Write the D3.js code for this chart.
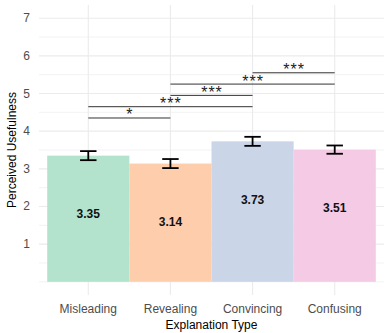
<!DOCTYPE html>
<html>
<head>
<meta charset="utf-8">
<script src="https://cdn.jsdelivr.net/npm/d3@7"></script>
<style>
  body { margin: 0; background: #fff; }
  text { font-family: "Liberation Sans", Arial, sans-serif; }
</style>
</head>
<body>
<div id="chart"></div>
<script>
// values
const categories = ["Misleading", "Revealing", "Convincing", "Confusing"];
const means = [3.35, 3.14, 3.73, 3.51];
const errors = [0.12, 0.12, 0.12, 0.11];
const barColors = ["#b3e2cd", "#fdcdac", "#cbd5e8", "#f4cae4"];
const yTicks = [1, 2, 3, 4, 5, 6, 7];
const yMinor = [0, 0.5, 1.5, 2.5, 3.5, 4.5, 5.5, 6.5];
const sigFrom = ["Misleading", "Misleading", "Revealing", "Revealing", "Convincing"];
const sigTo = ["Revealing", "Convincing", "Convincing", "Confusing", "Confusing"];
const sigY = [4.35, 4.65, 4.95, 5.25, 5.55];
const sigLabel = ["*", "***", "***", "***", "***"];

const width = 388, height = 333;
const panel = { left: 39, right: 384, top: 5, bottom: 295 };

const svg = d3.select("#chart").append("svg")
  .attr("width", width).attr("height", height);

const x = d3.scaleBand()
  .domain(categories)
  .range([panel.left, panel.right])
  .paddingInner(0)
  .paddingOuter(0.1);

const y = d3.scaleLinear()
  .domain([-0.35, 7.35])
  .range([panel.bottom, panel.top]);

const cx = c => x(c) + x.bandwidth() / 2;

// grid
const grid = svg.append("g");
grid.selectAll(".minor").data(yMinor).join("line")
  .attr("x1", panel.left).attr("x2", panel.right)
  .attr("y1", d => y(d)).attr("y2", d => y(d))
  .attr("stroke", "#ebebeb").attr("stroke-width", 0.6);
grid.selectAll(".major").data(yTicks).join("line")
  .attr("x1", panel.left).attr("x2", panel.right)
  .attr("y1", d => y(d)).attr("y2", d => y(d))
  .attr("stroke", "#ebebeb").attr("stroke-width", 1.1);
grid.selectAll(".vmajor").data(categories).join("line")
  .attr("x1", d => cx(d)).attr("x2", d => cx(d))
  .attr("y1", panel.top).attr("y2", panel.bottom)
  .attr("stroke", "#ebebeb").attr("stroke-width", 1.1);

// bars
const rows = categories.map((c, i) => ({ c, m: means[i], e: errors[i], col: barColors[i] }));

svg.selectAll(".bar").data(rows).join("rect")
  .attr("x", d => x(d.c))
  .attr("width", x.bandwidth())
  .attr("y", d => y(d.m))
  .attr("height", d => y(0) - y(d.m))
  .attr("fill", d => d.col);

// error bars
const capW = x.bandwidth() * 0.1;
const eb = svg.append("g").attr("stroke", "#000").attr("stroke-width", 1.8);
rows.forEach(d => {
  const X = cx(d.c);
  eb.append("line").attr("x1", X).attr("x2", X).attr("y1", y(d.m + d.e)).attr("y2", y(d.m - d.e));
  eb.append("line").attr("x1", X - capW).attr("x2", X + capW).attr("y1", y(d.m + d.e)).attr("y2", y(d.m + d.e));
  eb.append("line").attr("x1", X - capW).attr("x2", X + capW).attr("y1", y(d.m - d.e)).attr("y2", y(d.m - d.e));
});

// value labels
svg.selectAll(".val").data(rows).join("text")
  .attr("x", d => cx(d.c))
  .attr("y", d => y(d.m - 1.55))
  .attr("text-anchor", "middle")
  .attr("dominant-baseline", "central")
  .attr("font-size", 12)
  .attr("font-weight", "bold")
  .attr("fill", "#111")
  .text(d => d.m.toFixed(2));

// significance brackets
sigY.forEach((v, i) => {
  const x1 = cx(sigFrom[i]), x2 = cx(sigTo[i]);
  svg.append("line")
    .attr("x1", x1).attr("x2", x2)
    .attr("y1", y(v)).attr("y2", y(v))
    .attr("stroke", "#333").attr("stroke-width", 1);
  svg.append("text")
    .attr("x", (x1 + x2) / 2 + 0.5)
    .attr("y", y(v) + 2.5)
    .attr("text-anchor", "middle")
    .attr("font-size", 16)
    .attr("letter-spacing", 1)
    .attr("fill", "#222")
    .text(sigLabel[i]);
});

// y axis labels
svg.selectAll(".ytick").data(yTicks).join("text")
  .attr("x", 30)
  .attr("y", d => y(d))
  .attr("text-anchor", "end")
  .attr("dominant-baseline", "central")
  .attr("font-size", 12)
  .attr("fill", "#4d4d4d")
  .text(d => d);

// x axis labels
svg.selectAll(".xtick").data(categories).join("text")
  .attr("x", d => cx(d))
  .attr("y", 309)
  .attr("text-anchor", "middle")
  .attr("dominant-baseline", "central")
  .attr("font-size", 12)
  .attr("fill", "#4d4d4d")
  .text(d => d);

svg.append("text")
  .attr("x", (panel.left + panel.right) / 2)
  .attr("y", 325)
  .attr("text-anchor", "middle")
  .attr("dominant-baseline", "central")
  .attr("font-size", 12)
  .attr("fill", "#000")
  .text("Explanation Type");

svg.append("text")
  .attr("transform", `translate(12,${(panel.top + panel.bottom) / 2}) rotate(-90)`)
  .attr("text-anchor", "middle")
  .attr("dominant-baseline", "central")
  .attr("font-size", 12)
  .attr("fill", "#000")
  .text("Perceived Usefulness");
</script>
</body>
</html>
